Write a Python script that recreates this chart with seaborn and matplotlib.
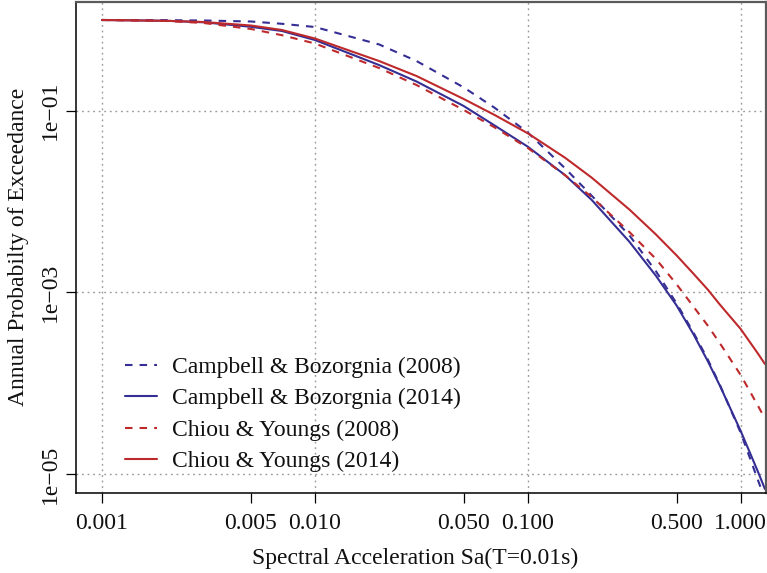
import matplotlib
matplotlib.use("Agg")
import matplotlib.pyplot as plt
from matplotlib.ticker import FixedLocator, FixedFormatter, NullLocator
import seaborn as sns
import pandas as pd

# ---- data ----
sa = [0.001, 0.002, 0.003, 0.005, 0.007, 0.01, 0.02, 0.03, 0.05, 0.07, 0.1,
      0.15, 0.2, 0.3, 0.4, 0.5, 0.6, 0.7, 0.8, 1.0, 1.2, 1.3]

cb2008 = [0.9975, 0.9924, 0.9849, 0.9603, 0.9059, 0.8350, 0.5373, 0.3527, 0.1805,
          0.1073, 0.05754, 0.02309, 0.011527, 0.004244, 0.0017032, 7.546e-4,
          3.607e-4, 1.829e-4, 9.459e-5, 2.843e-5, 8.790e-6, 5.294e-6]
cb2014 = [0.9975, 0.9774, 0.9410, 0.8395, 0.7546, 0.6006, 0.3186, 0.2098, 0.11265,
          0.06853, 0.04014, 0.019433, 0.010362, 0.003608, 0.0015198, 7.155e-4,
          3.455e-4, 1.752e-4, 9.292e-5, 2.969e-5, 1.0847e-5, 6.821e-6]
cy2008 = [0.9975, 0.9725, 0.9243, 0.7943, 0.6786, 0.5497, 0.2954, 0.1919, 0.10180,
          0.06531, 0.03884, 0.019384, 0.011154, 0.004615, 0.0023270, 0.0012250,
          6.958e-4, 4.310e-4, 2.730e-4, 1.2284e-4, 5.740e-5, 4.076e-5]
cy2014 = [0.9975, 0.9774, 0.9481, 0.8676, 0.7740, 0.6239, 0.3527, 0.2411, 0.13451,
          0.08944, 0.05638, 0.030215, 0.018245, 0.008165, 0.004331, 0.0025488,
          0.0016029, 0.0010737, 7.283e-4, 3.943e-4, 2.146e-4, 1.6236e-4]

labels = ["Campbell & Bozorgnia (2008)", "Campbell & Bozorgnia (2014)",
          "Chiou & Youngs (2008)", "Chiou & Youngs (2014)"]

xtick_major = [0.001, 0.01, 0.1, 1.0]
xtick_major_labels = ["0.001", "0.010", "0.100", "1.000"]
xtick_minor = [0.005, 0.05, 0.5]
xtick_minor_labels = ["0.005", "0.050", "0.500"]
ytick_vals = [1e-5, 1e-3, 1e-1]
ytick_labels = ["1e\u221205", "1e\u221203", "1e\u221201"]

# ---- style ----
sns.set_theme(style="ticks")
plt.rcParams["font.family"] = ["Liberation Serif", "DejaVu Serif"]
FS = 17

BLUE = "#352E94"
RED = "#BE2A2C"
DASH = (0, (3.6, 3.4))

fig = plt.figure(figsize=(7.67, 5.73), dpi=100)
W, H = 767, 573
ax = fig.add_axes([76 / W, 1 - 492.7 / H, 690 / W, 490.7 / H])

series = [
    (cb2008, labels[0], BLUE, DASH),
    (cb2014, labels[1], BLUE, "-"),
    (cy2008, labels[2], RED, DASH),
    (cy2014, labels[3], RED, "-"),
]
for vals, lab, col, ls in series:
    df = pd.DataFrame({"sa": sa, "p": vals})
    sns.lineplot(data=df, x="sa", y="p", ax=ax, color=col, linestyle=ls,
                 linewidth=1.5, label=lab)

ax.set_xscale("log")
ax.set_yscale("log")
ax.set_xlim(7.55e-4, 1.315)
ax.set_ylim(6.21e-6, 1.574)

ax.xaxis.set_major_locator(FixedLocator(xtick_major))
ax.xaxis.set_major_formatter(FixedFormatter(xtick_major_labels))
ax.xaxis.set_minor_locator(FixedLocator(xtick_minor))
ax.xaxis.set_minor_formatter(FixedFormatter(xtick_minor_labels))
ax.yaxis.set_major_locator(FixedLocator(ytick_vals))
ax.yaxis.set_major_formatter(FixedFormatter(ytick_labels))
ax.yaxis.set_minor_locator(NullLocator())

ax.tick_params(axis="both", which="both", direction="out", length=7.2,
               width=0.9, color="black", labelsize=FS, labelcolor="#111111")
ax.tick_params(axis="x", which="both", pad=7.5)
ax.tick_params(axis="y", which="major", pad=3.5, labelrotation=90)
for t in ax.get_yticklabels():
    t.set_va("center")

ax.grid(True, which="major", color="#9a9a9a", linestyle=(0, (1.3, 2.7)),
        linewidth=1.0)
ax.grid(False, which="minor")

for s in ["left", "bottom"]:
    ax.spines[s].set_color("black")
    ax.spines[s].set_linewidth(1.1)
for s in ["top", "right"]:
    ax.spines[s].set_color("#5a5a5a")
    ax.spines[s].set_linewidth(1.6)

ax.set_xlabel("Spectral Acceleration Sa(T=0.01s)", fontsize=FS, color="#111111")
ax.xaxis.set_label_coords((415.5 - 76) / 690, (492.7 - 564) / 490.7)
ax.xaxis.label.set_va("baseline")
ax.set_ylabel("Annual Probabilty of Exceedance", fontsize=FS, color="#111111")
ax.yaxis.set_label_coords((24 - 76) / 690, 0.5)
ax.yaxis.label.set_va("baseline")
ax.yaxis.label.set_rotation_mode("anchor")

leg = ax.legend(loc="upper left", bbox_to_anchor=(125 / W, 1 - 356.5 / H),
                bbox_transform=fig.transFigure, frameon=False, fontsize=FS,
                handlelength=1.35, handletextpad=0.62, labelspacing=0.42,
                borderpad=0, borderaxespad=0)
for t in leg.get_texts():
    t.set_color("#111111")

fig.savefig("out.png", dpi=100, facecolor="white")
